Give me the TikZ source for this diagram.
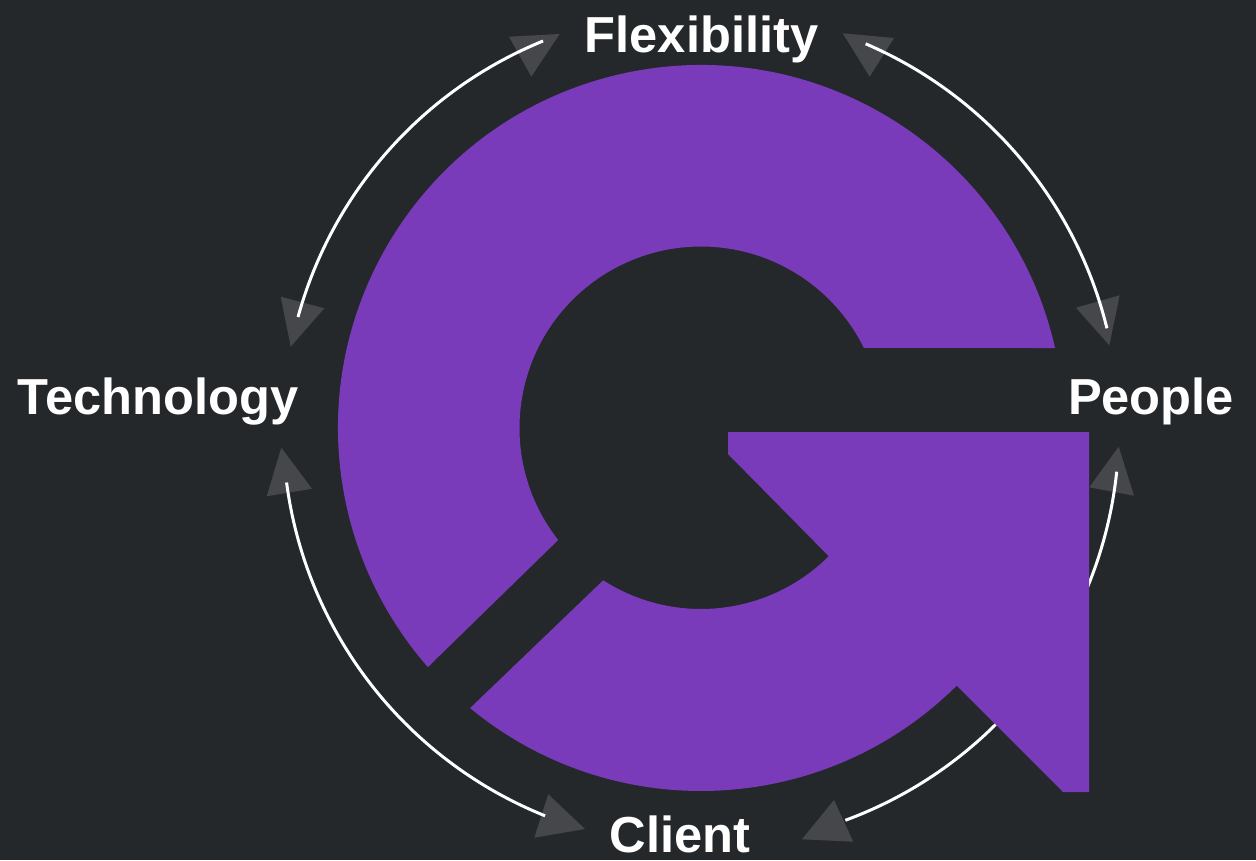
\documentclass[tikz,border=0pt]{standalone}
\usepackage{fontspec}
\setmainfont{Liberation Sans}
\definecolor{bgdark}{HTML}{24282B}
\definecolor{gpurple}{HTML}{7A3BBB}
\definecolor{tipgrey}{HTML}{46474B}
\begin{document}
\begin{tikzpicture}
    \tikzset{label/.style= {text=white,
                            anchor=base,
                            inner sep=0pt,
                            font=\fontsize{14.4}{16}\selectfont\bfseries},
             link/.style=  {draw=white,
                            line width=0.85pt},
             tip/.style=   {fill=tipgrey},
             gpart/.style= {fill=gpurple},
            }
    \fill[bgdark] (-7.01,-4.32) rectangle (5.55,4.28);
    \useasboundingbox (-7.01,-4.32) rectangle (5.55,4.28);
    \path
    (0.005,3.75)  node[label](flex)   {Flexibility}
    (-5.43,0.14)  node[label](tech)   {Technology}
    (4.50,0.14)   node[label](people) {People}
    (-0.21,-4.24) node[label](client) {Client}
    ;
    \coordinate (ftl) at (112.2:4.18);
    \coordinate (tfl) at (164.6:4.18);
    \coordinate (ftr) at (66.8:4.18);
    \coordinate (pfl) at (13.8:4.18);
    \coordinate (pcl) at (-6.0:4.18);
    \coordinate (cpl) at (-69.8:4.18);
    \coordinate (tcl) at (187.5:4.18);
    \coordinate (ctl) at (248.1:4.18);
    \fill[tip] (-1.92,3.913) -- (-1.413,3.94) -- (-1.697,3.513) -- cycle;
    \fill[tip] (-4.203,1.313) -- (-3.767,1.197) -- (-4.103,0.813) -- cycle;
    \fill[tip] (1.417,3.947) -- (1.93,3.90) -- (1.687,3.513) -- cycle;
    \fill[tip] (3.75,1.203) -- (4.187,1.327) -- (4.083,0.827) -- cycle;
    \fill[tip] (4.177,-0.187) -- (3.883,-0.593) -- (4.33,-0.677) -- cycle;
    \fill[tip] (1.33,-3.72) -- (1.01,-4.113) -- (1.523,-4.137) -- cycle;
    \fill[tip] (-4.197,-0.197) -- (-4.343,-0.683) -- (-3.89,-0.607) -- cycle;
    \fill[tip] (-1.527,-3.663) -- (-1.667,-4.097) -- (-1.16,-4.01) -- cycle;
    \draw[link] (ftl) arc[start angle=112.2, end angle=164.6, radius=4.18];
    \draw[link] (ftr) arc[start angle=66.8, end angle=13.8, radius=4.18];
    \draw[link] (pcl) arc[start angle=-6.0, end angle=-69.8, radius=4.18];
    \draw[link] (tcl) arc[start angle=187.5, end angle=248.1, radius=4.18];
    \fill[gpart] (12.73:3.63) arc[start angle=12.73, end angle=221.2, radius=3.63]
        -- (218.1:1.815) arc[start angle=218.1, end angle=26.2, radius=1.815] -- cycle;
    \fill[gpart] (237.3:1.81) arc[start angle=237.3, end angle=314.9, radius=1.81]
        -- (0.27,-0.26) -- (0.27,-0.04) -- (3.88,-0.04) -- (3.88,-3.64) -- (3.62,-3.64)
        -- (-45.2:3.63) arc[start angle=-45.2, end angle=-129.5, radius=3.63] -- cycle;
\end{tikzpicture}
\end{document}
